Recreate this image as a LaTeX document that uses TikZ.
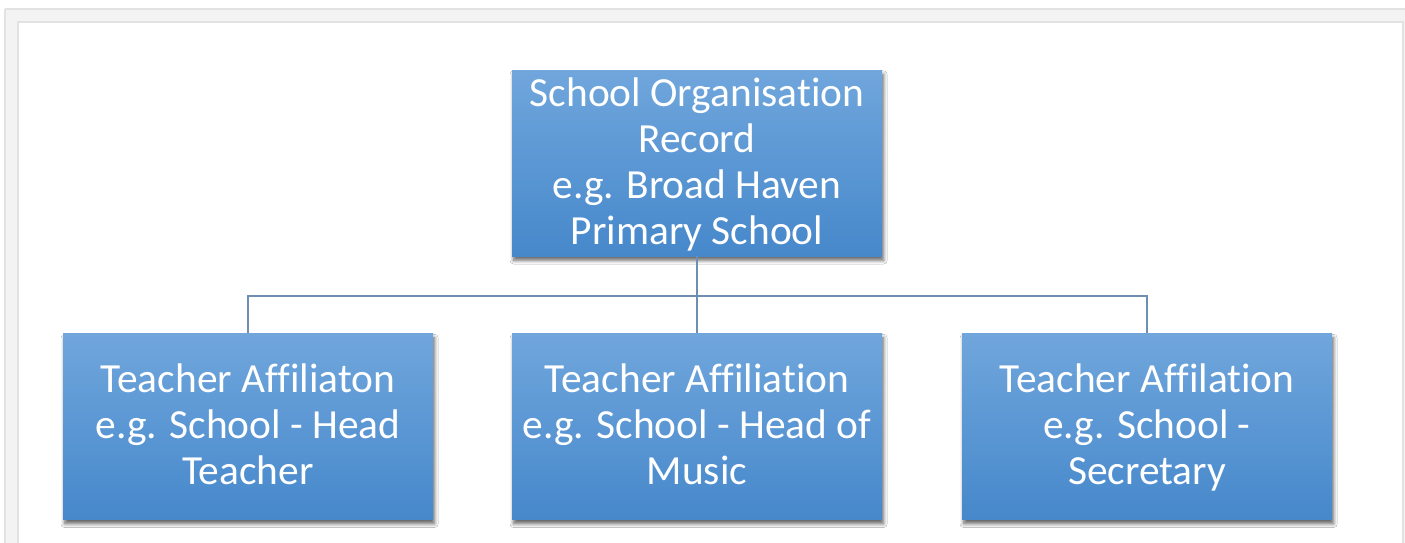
\documentclass[tikz,border=0pt]{standalone}
\usepackage{fontspec}
\setmainfont[Ligatures={NoCommon}]{Carlito}
\usetikzlibrary{shadows,shadows.blur}
\definecolor{boxtop}{RGB}{112,166,220}
\definecolor{boxbot}{RGB}{70,136,203}
\definecolor{connc}{RGB}{110,142,178}
\definecolor{bandc}{RGB}{243,243,243}
\definecolor{bandline}{RGB}{226,226,226}
\tikzset{
  orgbox/.style={rectangle, minimum width=185pt, minimum height=93pt,
    inner sep=0pt, top color=boxtop, bottom color=boxbot, draw=none,
    blur shadow={shadow xshift=0.8pt, shadow yshift=-2.2pt, shadow blur steps=6, shadow opacity=60, shadow blur radius=1.8pt}},
  orgtext/.style={text=white, align=center, inner sep=0pt, yshift=-1.6pt,
    font=\fontsize{20.7pt}{23pt}\selectfont},
  conn/.style={draw=connc, line width=1pt}
}
\begin{document}
\begin{tikzpicture}[x=0.5pt,y=-0.5pt]
\useasboundingbox (0,0) rectangle (1405,542);
% frame
\fill[bandc] (5,9) rectangle (1420,560);
\draw[bandline, line width=0.6pt] (5,9) -- (1420,9) (5,9) -- (5,560);
\fill[white] (18,22) rectangle (1403,560);
\draw[bandline, line width=0.6pt] (18,560) -- (18,22) -- (1403,22) -- (1403,560);
% nodes
\node[orgbox, label={[orgtext]center:{\strut School Organisation\\Record\\e.g. Broad Haven\\Primary School\strut}}] (top) at (697,163) {};
\node[orgbox, label={[orgtext]center:{\strut Teacher Affiliaton\\e.g. School - Head\\Teacher\strut}}] (l) at (248,426.5) {};
\node[orgbox, label={[orgtext]center:{\strut Teacher Affiliation\\e.g. School - Head of\\Music\strut}}] (m) at (697,426.5) {};
\node[orgbox, label={[orgtext]center:{\strut Teacher Affilation\\e.g. School -\\Secretary\strut}}] (r) at (1147,426.5) {};
\coordinate (bus) at (697,296);
\draw[conn] (top.south) -- (bus);
\draw[conn] (bus) -| (l.north);
\draw[conn] (bus) -| (r.north);
\draw[conn] (bus) -- (m.north);
\end{tikzpicture}
\end{document}
